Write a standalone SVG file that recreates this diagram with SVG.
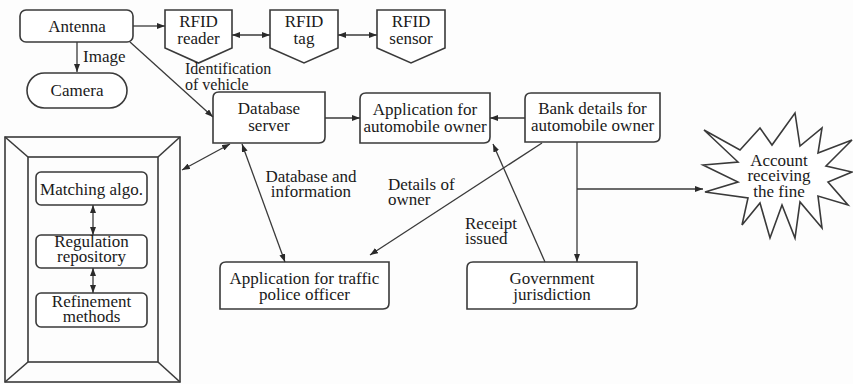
<svg xmlns="http://www.w3.org/2000/svg" width="853" height="384" viewBox="0 0 853 384">
  <defs>
    <style>
      .box { fill: #ffffff; stroke: #3a3a3a; stroke-width: 1.6; }
      .frame { fill: none; stroke: #3a3a3a; stroke-width: 1.6; }
      .conn { fill: none; stroke: #3a3a3a; stroke-width: 1.3; }
      .c { text-anchor: middle; }
    </style>
    <marker id="arr" viewBox="0 0 8 6" markerWidth="8" markerHeight="6" refX="8" refY="3" orient="auto-start-reverse" markerUnits="userSpaceOnUse">
      <path d="M0,0 L8,3 L0,6 Z" fill="#2a2a2a"/>
    </marker>
  </defs>

  <rect width="853" height="384" fill="#fdfdfd"/>

  <g font-family="Liberation Serif, Times New Roman, serif" font-size="17" fill="#1a1a1a">

  <!-- Antenna -->
  <g id="antenna">
    <rect class="box" x="20" y="10" width="113" height="32" rx="6"/>
    <text class="c" x="77" y="32">Antenna</text>
  </g>

  <!-- Camera -->
  <g id="camera">
    <rect class="box" x="27" y="73" width="100" height="35" rx="17.5"/>
    <text class="c" x="77" y="96">Camera</text>
  </g>

  <!-- RFID chain -->
  <g id="rfid-reader">
    <path class="box" d="M165,10 H232 V48 L198.5,63 L165,48 Z"/>
    <text class="c" x="198.5" y="27">RFID</text>
    <text class="c" x="198.5" y="44">reader</text>
  </g>
  <g id="rfid-tag">
    <path class="box" d="M270,10 H338 V48 L304,63 L270,48 Z"/>
    <text class="c" x="304" y="27">RFID</text>
    <text class="c" x="304" y="44">tag</text>
  </g>
  <g id="rfid-sensor">
    <path class="box" d="M377,10 H445 V48 L411,63 L377,48 Z"/>
    <text class="c" x="411" y="27">RFID</text>
    <text class="c" x="411" y="44">sensor</text>
  </g>

  <!-- Database server -->
  <g id="database-server">
    <path class="box" d="M219,92 H325 V137 Q325,143 319,143 H213 V98 Q213,92 219,92 Z"/>
    <text class="c" x="269" y="114">Database</text>
    <text class="c" x="269" y="131">server</text>
  </g>

  <!-- Application for automobile owner -->
  <g id="app-owner">
    <path class="box" d="M366,93 H490 V137 Q490,143 484,143 H360 V99 Q360,93 366,93 Z"/>
    <text class="c" x="425" y="115">Application for</text>
    <text class="c" x="425" y="132">automobile owner</text>
  </g>

  <!-- Bank details -->
  <g id="bank-details">
    <path class="box" d="M531,93 H660 V136 Q660,142 654,142 H525 V99 Q525,93 531,93 Z"/>
    <text class="c" x="592.5" y="114">Bank details for</text>
    <text class="c" x="592.5" y="131">automobile owner</text>
  </g>

  <!-- Account receiving the fine -->
  <g id="account">
    <path class="box" d="M704,130 L740,150 L760,128 L772,145 L795,113 L800,146 L822,128 L818,153 L852,140 L826,166 L852,172 L828,182 L848,205 L818,196 L822,228 L800,202 L795,238 L782,205 L770,238 L760,203 L742,225 L748,198 L705,192 L738,182 L703,165 L738,162 Z"/>
    <text class="c" x="779" y="166">Account</text>
    <text class="c" x="779" y="181">receiving</text>
    <text class="c" x="779" y="197">the fine</text>
  </g>

  <!-- Application for traffic police officer -->
  <g id="app-police">
    <path class="box" d="M226,262 H389 V303 Q389,309 383,309 H220 V268 Q220,262 226,262 Z"/>
    <text class="c" x="304.5" y="284">Application for traffic</text>
    <text class="c" x="304.5" y="300">police officer</text>
  </g>

  <!-- Government jurisdiction -->
  <g id="government">
    <path class="box" d="M473,262 H637 V303 Q637,309 631,309 H467 V268 Q467,262 473,262 Z"/>
    <text class="c" x="552" y="284">Government</text>
    <text class="c" x="552" y="300">jurisdiction</text>
  </g>

  <!-- Processing unit -->
  <g id="processing-unit">
    <rect class="frame" x="5" y="137" width="175" height="245"/>
    <rect class="frame" x="28" y="157" width="130" height="205"/>
    <line class="frame" x1="5" y1="137" x2="28" y2="157"/>
    <line class="frame" x1="180" y1="137" x2="158" y2="157"/>
    <line class="frame" x1="5" y1="382" x2="28" y2="362"/>
    <line class="frame" x1="180" y1="382" x2="158" y2="362"/>
  </g>
  <g id="matching-algo">
    <rect class="box" x="36" y="172" width="111" height="33" rx="5"/>
    <text class="c" x="91.5" y="195">Matching algo.</text>
  </g>
  <g id="regulation-repository">
    <rect class="box" x="36" y="235" width="111" height="33" rx="5"/>
    <text class="c" x="91.5" y="247">Regulation</text>
    <text class="c" x="91.5" y="262">repository</text>
  </g>
  <g id="refinement-methods">
    <rect class="box" x="36" y="293" width="111" height="34" rx="5"/>
    <text class="c" x="91.5" y="307">Refinement</text>
    <text class="c" x="91.5" y="322">methods</text>
  </g>

  <!-- Connector labels -->
  <g id="labels">
    <text x="83" y="62">Image</text>
    <text x="185" y="74" font-size="16">Identification</text>
    <text x="185" y="90" font-size="16">of vehicle</text>
    <text class="c" x="311" y="182">Database and</text>
    <text class="c" x="311" y="197">information</text>
    <text x="388" y="190">Details of</text>
    <text x="388" y="205">owner</text>
    <text x="465" y="229">Receipt</text>
    <text x="465" y="244">issued</text>
  </g>

  </g>

  <!-- Connectors -->
  <g id="connectors">
    <line class="conn" x1="77" y1="42" x2="77" y2="72" marker-end="url(#arr)"/>
    <line class="conn" x1="133" y1="26" x2="165" y2="26" marker-end="url(#arr)"/>
    <line class="conn" x1="232" y1="35" x2="270" y2="35" marker-start="url(#arr)" marker-end="url(#arr)"/>
    <line class="conn" x1="338" y1="35" x2="377" y2="35" marker-start="url(#arr)" marker-end="url(#arr)"/>
    <line class="conn" x1="130" y1="42" x2="213" y2="117" marker-end="url(#arr)"/>
    <line class="conn" x1="325" y1="118" x2="360" y2="118" marker-end="url(#arr)"/>
    <line class="conn" x1="525" y1="118" x2="490" y2="118" marker-end="url(#arr)"/>
    <line class="conn" x1="182" y1="170" x2="230" y2="144" marker-start="url(#arr)" marker-end="url(#arr)"/>
    <line class="conn" x1="242" y1="144" x2="285" y2="262" marker-start="url(#arr)" marker-end="url(#arr)"/>
    <line class="conn" x1="542" y1="143" x2="370" y2="255" marker-end="url(#arr)"/>
    <line class="conn" x1="545" y1="262" x2="493" y2="144" marker-end="url(#arr)"/>
    <line class="conn" x1="577" y1="142" x2="577" y2="262" marker-end="url(#arr)"/>
    <line class="conn" x1="577" y1="189" x2="703" y2="189" marker-end="url(#arr)"/>
    <line class="conn" x1="93" y1="205" x2="93" y2="235" marker-start="url(#arr)" marker-end="url(#arr)"/>
    <line class="conn" x1="93" y1="268" x2="93" y2="293" marker-start="url(#arr)" marker-end="url(#arr)"/>
  </g>
</svg>
